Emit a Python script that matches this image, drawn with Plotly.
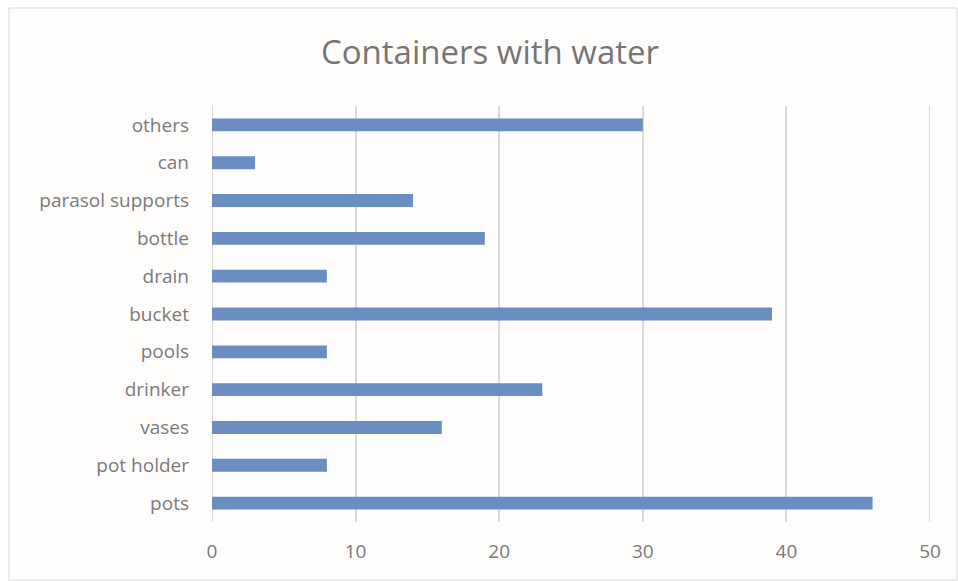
import plotly.graph_objects as go

categories = ["pots", "pot holder", "vases", "drinker", "pools", "bucket",
              "drain", "bottle", "parasol supports", "can", "others"]
values = [46, 8, 16, 23, 8, 39, 8, 19, 14, 3, 30]
x_ticks = [0, 10, 20, 30, 40, 50]

W, H = 958, 581
L, R, T, B = 212, 28, 106, 59
pw, ph = W - L - R, H - T - B

def px_to_paper_x(px):
    return (px - L) / pw

def px_to_paper_y(py):
    return (H - B - py) / ph

GRID = "#D9D9D9"

fig = go.Figure(go.Bar(
    x=values, y=categories, orientation="h",
    marker=dict(color="#6A8EC1", line=dict(width=0)),
    width=0.34,
))

shapes = [dict(type="rect", xref="paper", yref="paper",
               x0=px_to_paper_x(9), x1=px_to_paper_x(957),
               y0=px_to_paper_y(580), y1=px_to_paper_y(8),
               fillcolor="#FEFDFC", line=dict(color=GRID, width=1),
               layer="below")]
for edge in (x_ticks[0], x_ticks[-1]):
    shapes.append(dict(type="line", xref="x", yref="paper", x0=edge, x1=edge,
                       y0=0, y1=1, line=dict(color=GRID, width=2), layer="below"))

fig.update_layout(
    width=W, height=H,
    margin=dict(l=L, r=R, t=T, b=B, autoexpand=False),
    paper_bgcolor="white",
    plot_bgcolor="rgba(0,0,0,0)",
    font=dict(family="Open Sans, Liberation Sans, sans-serif", color="#7A7A7A", size=19),
    title=dict(text="Containers with water", x=490 / W, xref="container", y=1 - 52 / H,
               yanchor="middle", xanchor="center",
               font=dict(size=33, color="#767676")),
    showlegend=False,
    shapes=shapes,
)
fig.update_xaxes(range=[0, 50], tickvals=x_ticks, showgrid=True, gridcolor=GRID,
                 gridwidth=2, zeroline=False, showline=False, ticks="",
                 ticklabelstandoff=16, tickfont=dict(size=19))
fig.update_yaxes(showgrid=False, ticks="", showline=False,
                 ticklabelstandoff=22, tickfont=dict(size=19))

fig.write_html("out.html")
